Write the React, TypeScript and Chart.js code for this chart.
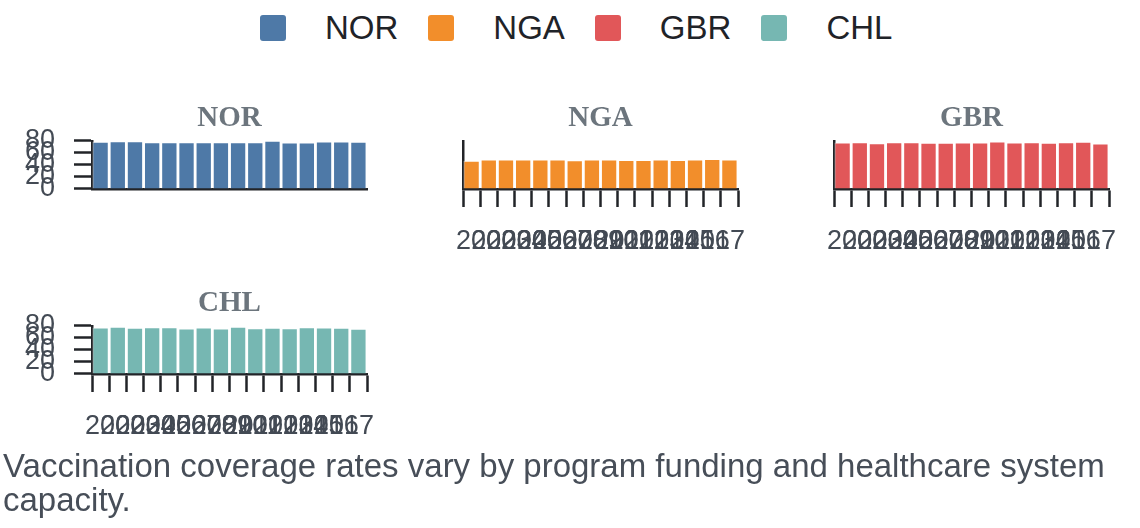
import { useEffect, useRef } from "react";
import { Chart, registerables } from "chart.js";

Chart.register(...registerables);

// years on the x axis (one bar per year)
const years = [
  "2002", "2003", "2004", "2005", "2006", "2007", "2008", "2009",
  "2010", "2011", "2012", "2013", "2014", "2015", "2016", "2017",
];
// year labels sit on a slightly tighter grid than the bars in the original
const yearLabelSlots = ["", ...years, ""];
const yTicks = [0, 20, 40, 60, 80];

const countries = ["NOR", "NGA", "GBR", "CHL"];
const colors = ["#4e79a7", "#f28e2b", "#e15759", "#76b7b2"];

// coverage (%)
const norValues = [78.3, 79.4, 79.4, 77.8, 77.8, 77.8, 77.8, 77.8, 77.8, 77.8, 80, 77.2, 77.2, 78.9, 78.9, 78.3];
const ngaValues = [46.7, 48.9, 48.9, 48.9, 48.9, 48.9, 47.8, 48.9, 48.9, 48.3, 48.3, 48.9, 48.3, 48.9, 50, 48.9];
const gbrValues = [77.2, 77.8, 76.1, 77.8, 77.8, 76.7, 76.7, 77.2, 77.2, 78.9, 77.2, 77.8, 76.7, 77.8, 78.3, 75.6];
const chlValues = [77.2, 78.3, 76.6, 77.7, 77.7, 75.5, 77.2, 75.5, 78.3, 76.1, 76.6, 76.1, 77.7, 77.2, 76.6, 74.9];

const caption =
  "Vaccination coverage rates vary by program funding and healthcare system capacity.";

const SANS = "'Liberation Sans', Arial, Helvetica, sans-serif";
const SERIF = "'Liberation Serif', 'Times New Roman', serif";
const AXIS = "#222428";
const TICK = "#434a54";

const Y_AXIS_W = 92;
const PLOT_W = 275;
const PLOT_H = 48;
const TITLE_H = 60;
const TICK_LEN = 18;
const X_AXIS_H = 80;
const RIGHT_PAD = 45;

interface PanelProps {
  name: string;
  color: string;
  values: number[];
  plotLeft: number;
  plotTop: number;
  showY: boolean;
  showX: boolean;
}

function FacetPanel({ name, color, values, plotLeft, plotTop, showY, showX }: PanelProps) {
  const canvasRef = useRef<HTMLCanvasElement>(null);

  useEffect(() => {
    if (!canvasRef.current) return;
    const tickFont = { family: SANS, size: 27 };
    const chart = new Chart(canvasRef.current, {
      type: "bar",
      data: {
        labels: years,
        datasets: [
          {
            label: name,
            data: values,
            backgroundColor: color,
            borderColor: "rgba(255,255,255,0.5)",
            borderWidth: 1,
            barPercentage: 0.95,
            categoryPercentage: 1,
          },
        ],
      },
      options: {
        responsive: true,
        maintainAspectRatio: false,
        animation: false,
        layout: { padding: { right: RIGHT_PAD } },
        plugins: {
          legend: { display: false },
          tooltip: { enabled: false },
          title: {
            display: true,
            text: name,
            fullSize: false,
            color: "#6c757d",
            font: { family: SERIF, size: 29, weight: "bold" },
            padding: { top: 20, bottom: 5 },
          },
        },
        scales: {
          x: {
            z: 1,
            weight: 0,
            afterFit: (s: any) => {
              s.height = TICK_LEN;
            },
            grid: {
              drawOnChartArea: false,
              drawTicks: showX,
              tickLength: TICK_LEN,
              tickWidth: 2.5,
              tickColor: AXIS,
            },
            border: { display: true, color: AXIS, width: 2.5 },
            ticks: { display: false, autoSkip: false },
          },
          xYears: {
            type: "category",
            position: "bottom",
            weight: 1,
            labels: yearLabelSlots,
            offset: true,
            afterFit: (s: any) => {
              s.height = X_AXIS_H - TICK_LEN;
            },
            grid: { display: false, drawTicks: false },
            border: { display: false },
            ticks: {
              display: showX,
              autoSkip: false,
              maxRotation: 0,
              minRotation: 0,
              padding: 18,
              color: TICK,
              font: tickFont,
            },
          },
          y: {
            z: 1,
            min: 0,
            max: 80,
            afterFit: (s: any) => {
              s.width = Y_AXIS_W;
            },
            afterBuildTicks: (s: any) => {
              s.ticks = yTicks.map((v) => ({ value: v }));
            },
            grid: {
              drawOnChartArea: false,
              drawTicks: showY,
              tickLength: TICK_LEN,
              tickWidth: 2.5,
              tickColor: AXIS,
            },
            border: { display: true, color: AXIS, width: 2.5 },
            ticks: {
              display: showY,
              autoSkip: false,
              padding: 19,
              color: TICK,
              font: tickFont,
            },
          },
        },
      },
    });

    return () => {
      chart.destroy();
    };
  }, [name, color, values, showX, showY]);

  return (
    <div
      style={{
        position: "absolute",
        left: plotLeft - Y_AXIS_W,
        top: plotTop - TITLE_H,
        width: Y_AXIS_W + PLOT_W + RIGHT_PAD,
        height: TITLE_H + PLOT_H + X_AXIS_H,
      }}
    >
      <canvas ref={canvasRef} />
    </div>
  );
}

export default function App() {
  return (
    <div
      style={{
        position: "absolute",
        left: 0,
        top: 0,
        width: 1140,
        height: 528,
        overflow: "hidden",
        background: "#fff",
        fontFamily: SANS,
      }}
    >
      <div
        style={{
          position: "absolute",
          left: 260,
          top: 13,
          height: 30,
          display: "flex",
          alignItems: "center",
          fontSize: 33,
          lineHeight: "30px",
          color: "#1f2328",
          whiteSpace: "nowrap",
        }}
      >
        {countries.map((c, i) => (
          <div key={c} style={{ display: "flex", alignItems: "center", marginRight: 30 }}>
            <span
              style={{
                display: "inline-block",
                width: 26,
                height: 26,
                borderRadius: 3,
                background: colors[i],
                marginRight: 39,
              }}
            />
            <span>{c}</span>
          </div>
        ))}
      </div>

      <FacetPanel name="NOR" color={colors[0]} values={norValues} plotLeft={92} plotTop={140.7} showY showX={false} />
      <FacetPanel name="NGA" color={colors[1]} values={ngaValues} plotLeft={463} plotTop={140.7} showY={false} showX />
      <FacetPanel name="GBR" color={colors[2]} values={gbrValues} plotLeft={834} plotTop={140.7} showY={false} showX />
      <FacetPanel name="CHL" color={colors[3]} values={chlValues} plotLeft={92} plotTop={325.5} showY showX />

      <div
        style={{
          position: "absolute",
          left: 3,
          top: 449,
          width: 1130,
          fontSize: 33,
          lineHeight: "34px",
          color: "#474e58",
        }}
      >
        {caption}
      </div>
    </div>
  );
}
